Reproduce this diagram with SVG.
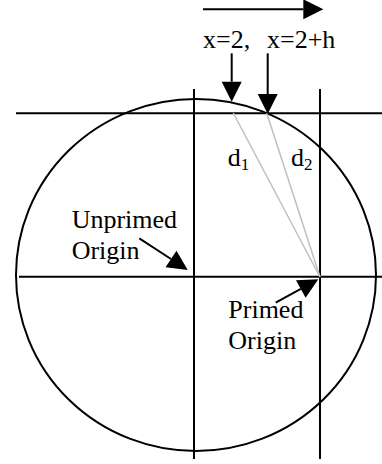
<svg xmlns="http://www.w3.org/2000/svg" width="382" height="464" viewBox="0 0 382 464">
  <style>
    .ln { stroke: #000; stroke-width: 2; fill: none; }
    .gr { stroke: #c0c0c0; stroke-width: 1.5; fill: none; }
    .ar { stroke: #000; stroke-width: 2; fill: none; marker-end: url(#ah); }
    .t { font-family: "Liberation Serif", "Times New Roman", serif; font-size: 26px; fill: #000; }
    .sub { font-size: 17px; }
  </style>
  <defs>
    <marker id="ah" markerUnits="userSpaceOnUse" markerWidth="20" markerHeight="20" refX="0" refY="10" orient="auto" overflow="visible">
      <path d="M0,0 L20,10 L0,20 z" fill="#000"/>
    </marker>
  </defs>
  <rect width="382" height="464" fill="#fff"/>

  <g id="circle">
    <ellipse cx="196" cy="275" rx="180" ry="176" class="ln"/>
  </g>
  <g id="axes">
    <line x1="16" y1="113.3" x2="382" y2="113.3" class="ln"/>
    <line x1="19" y1="276.7" x2="382" y2="276.7" class="ln"/>
    <line x1="194" y1="89" x2="194" y2="459" class="ln"/>
    <line x1="320" y1="89" x2="320" y2="459" class="ln"/>
  </g>

  <g id="connectors">
    <line x1="233.3" y1="113" x2="320" y2="277" class="gr"/>
    <line x1="266.7" y1="113" x2="320" y2="277" class="gr"/>
    <line x1="203" y1="9.3" x2="303.3" y2="9.3" class="ar"/>
    <line x1="231.7" y1="53.3" x2="231.7" y2="81.7" class="ar"/>
    <line x1="267.7" y1="53.3" x2="267.7" y2="94" class="ar"/>
    <line x1="139.3" y1="238.3" x2="171" y2="259" class="ar"/>
    <line x1="275.7" y1="302.7" x2="300.8" y2="288.9" class="ar"/>
  </g>

  <g id="label-x2">
    <text x="203" y="47.5" class="t">x=2,</text>
  </g>
  <g id="label-x2h">
    <text x="267" y="47.5" class="t">x=2+h</text>
  </g>
  <g id="label-d1">
    <text x="227.7" y="166" class="t">d<tspan class="sub" dy="4">1</tspan></text>
  </g>
  <g id="label-d2">
    <text x="291" y="166" class="t">d<tspan class="sub" dy="4">2</tspan></text>
  </g>
  <g id="label-unprimed">
    <text x="71.7" y="227.7" class="t">Unprimed</text>
    <text x="71.7" y="259" class="t">Origin</text>
  </g>
  <g id="label-primed">
    <text x="228.3" y="318.3" class="t">Primed</text>
    <text x="228.3" y="349.3" class="t">Origin</text>
  </g>
</svg>
